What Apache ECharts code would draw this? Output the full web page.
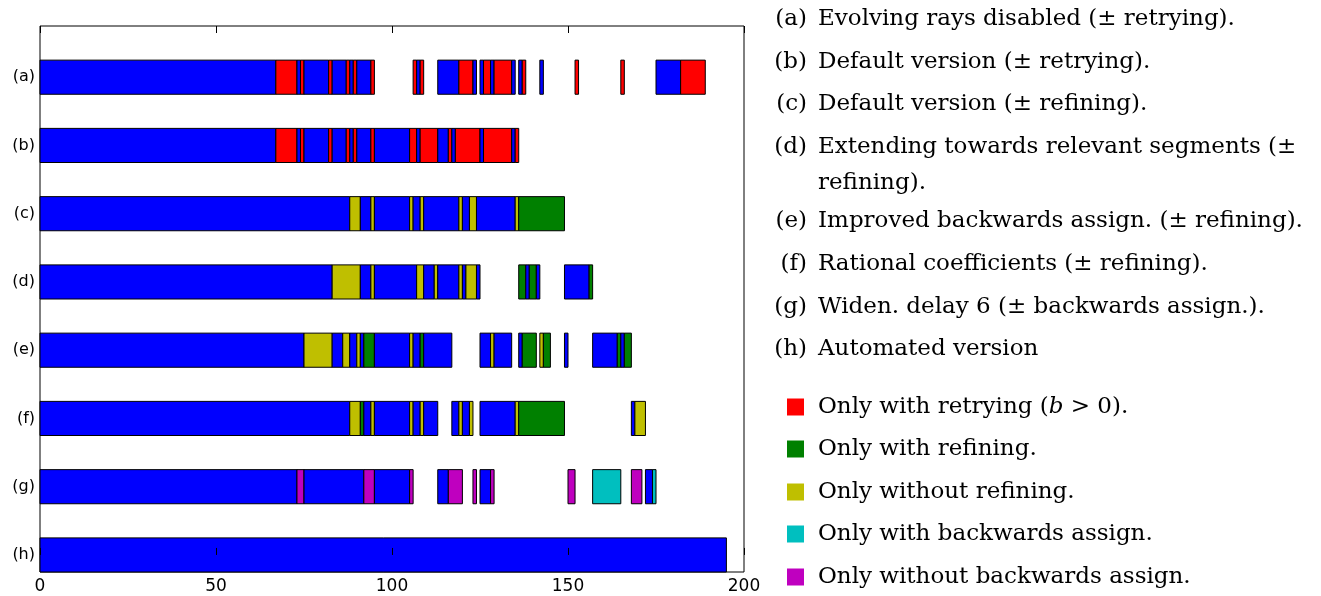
<!DOCTYPE html>
<html>
<head>
<meta charset="utf-8">
<script src="https://cdn.jsdelivr.net/npm/echarts@6/dist/echarts.min.js"></script>
<style>html,body{margin:0;padding:0;background:#fff;}#c{width:1321px;height:596px;}</style>
</head>
<body>
<div id="c"></div>
<script>
// Row labels (top to bottom)
const rowLabels = ['(a)', '(b)', '(c)', '(d)', '(e)', '(f)', '(g)', '(h)'];
const xTicks = [0, 50, 100, 150, 200];

// Segments per row: [start, end, kind]; B=both, R=only retrying, G=only refining,
// Y=only without refining, C=only with backwards assign, M=only without backwards assign
const segA = [[0,67,'B'],[67,73,'R'],[73,74,'B'],[74,75,'R'],[75,82,'B'],[82,83,'R'],[83,87,'B'],[87,88,'R'],[88,89,'B'],[89,90,'R'],[90,94,'B'],[94,95,'R'],
  [106,107,'R'],[107,108,'B'],[108,109,'R'],
  [113,119,'B'],[119,123,'R'],[123,124,'B'],
  [125,126,'B'],[126,128,'R'],[128,129,'B'],[129,134,'R'],[134,135,'B'],
  [136,137,'B'],[137,138,'R'],
  [142,143,'B'],[152,153,'R'],[165,166,'R'],
  [175,182,'B'],[182,189,'R']];
const segB = [[0,67,'B'],[67,73,'R'],[73,74,'B'],[74,75,'R'],[75,82,'B'],[82,83,'R'],[83,87,'B'],[87,88,'R'],[88,89,'B'],[89,90,'R'],[90,94,'B'],[94,95,'R'],
  [95,105,'B'],[105,107,'R'],[107,108,'B'],[108,113,'R'],[113,116,'B'],[116,117,'R'],[117,118,'B'],[118,125,'R'],[125,126,'B'],[126,134,'R'],[134,135,'B'],[135,136,'R']];
const segC = [[0,88,'B'],[88,91,'Y'],[91,94,'B'],[94,95,'Y'],[95,105,'B'],[105,106,'Y'],[106,108,'B'],[108,109,'Y'],[109,119,'B'],[119,120,'Y'],[120,122,'B'],[122,124,'Y'],[124,135,'B'],[135,136,'Y'],[136,149,'G']];
const segD = [[0,83,'B'],[83,91,'Y'],[91,94,'B'],[94,95,'Y'],[95,107,'B'],[107,109,'Y'],[109,112,'B'],[112,113,'Y'],[113,119,'B'],[119,120,'Y'],[120,121,'B'],[121,124,'Y'],[124,125,'B'],
  [136,138,'G'],[138,139,'B'],[139,141,'G'],[141,142,'B'],
  [149,156,'B'],[156,157,'G']];
const segE = [[0,75,'B'],[75,83,'Y'],[83,86,'B'],[86,88,'Y'],[88,90,'B'],[90,91,'Y'],[91,92,'B'],[92,95,'G'],[95,105,'B'],[105,106,'Y'],[106,108,'B'],[108,109,'G'],[109,117,'B'],
  [125,128,'B'],[128,129,'Y'],[129,134,'B'],
  [136,137,'B'],[137,141,'G'],
  [142,143,'Y'],[143,145,'G'],
  [149,150,'B'],
  [157,164,'B'],[164,165,'G'],[165,166,'B'],[166,168,'G']];
const segF = [[0,88,'B'],[88,91,'Y'],[91,92,'G'],[92,94,'B'],[94,95,'Y'],[95,105,'B'],[105,106,'Y'],[106,108,'B'],[108,109,'Y'],[109,113,'B'],
  [117,119,'B'],[119,120,'Y'],[120,122,'B'],[122,123,'Y'],
  [125,135,'B'],[135,136,'Y'],[136,149,'G'],
  [168,169,'B'],[169,172,'Y']];
const segG = [[0,73,'B'],[73,75,'M'],[75,92,'B'],[92,95,'M'],[95,105,'B'],[105,106,'M'],
  [113,116,'B'],[116,120,'M'],
  [123,124,'M'],
  [125,128,'B'],[128,129,'M'],
  [150,152,'M'],
  [157,165,'C'],
  [168,171,'M'],
  [172,174,'B'],[174,175,'C']];
const segH = [[0,195,'B']];

const descTexts = [
  ['(a)', 'Evolving rays disabled (\u00b1 retrying).'],
  ['(b)', 'Default version (\u00b1 retrying).'],
  ['(c)', 'Default version (\u00b1 refining).'],
  ['(d)', 'Extending towards relevant segments (\u00b1'],
  ['', 'refining).'],
  ['(e)', 'Improved backwards assign. (\u00b1 refining).'],
  ['(f)', 'Rational coefficients (\u00b1 refining).'],
  ['(g)', 'Widen. delay 6 (\u00b1 backwards assign.).'],
  ['(h)', 'Automated version']
];
const legendKinds = ['R', 'G', 'Y', 'C', 'M'];
const legendTexts = ['Only with retrying ({i|b} > 0).', 'Only with refining.', 'Only without refining.', 'Only with backwards assign.', 'Only without backwards assign.'];

const kindColor = {B:'#0000ff', R:'#ff0000', G:'#008000', Y:'#bfbf00', C:'#00bfbf', M:'#bf00bf'};
const kindIndex = ['B','R','G','Y','C','M'];

const allRows = [segA, segB, segC, segD, segE, segF, segG, segH];
const data = [];
allRows.forEach((segs, r) => {
  const yv = allRows.length - 1 - r;
  segs.forEach(s => data.push([s[0], s[1], yv, kindIndex.indexOf(s[2])]));
});

const serif = '"DejaVu Serif", "Liberation Serif", serif';
const fs = 23;
const graphics = [];
const descY = [19, 62, 104, 147, 183, 221, 264, 307, 349];
descTexts.forEach((d, i) => {
  if (d[0]) graphics.push({type:'text', x: 807, y: descY[i], style:{text:d[0], font:fs + 'px ' + serif, fill:'#000', align:'right', verticalAlign:'middle', textAlign:'right', textVerticalAlign:'middle'}});
  graphics.push({type:'text', x: 818, y: descY[i], style:{text:d[1], font:fs + 'px ' + serif, fill:'#000', align:'left', verticalAlign:'middle', textAlign:'left', textVerticalAlign:'middle'}});
});
const legY = [407, 449, 492, 534, 577];
legendKinds.forEach((k, i) => {
  graphics.push({type:'rect', shape:{x:787, y:legY[i]-8.5, width:17, height:17}, style:{fill:kindColor[k]}});
  graphics.push({type:'text', x: 818, y: legY[i], style:{text:legendTexts[i], font:fs + 'px ' + serif, fill:'#000', align:'left', verticalAlign:'middle', textAlign:'left', textVerticalAlign:'middle',
    rich:{i:{font:'italic ' + fs + 'px ' + serif, fill:'#000'}}}});
});

const chart = echarts.init(document.getElementById('c'), null, {renderer:'canvas'});
const tickVals = rowLabels.map((_, i) => i);
chart.setOption({
  animation: false,
  backgroundColor: '#fff',
  grid: {left: 40, top: 26, right: 577, bottom: 24, show: true, borderColor: '#000', borderWidth: 1, backgroundColor: 'transparent'},
  xAxis: [
    {type:'value', min:0, max:200, interval:50, position:'bottom', z: 10,
      axisLine:{show:false}, splitLine:{show:false},
      axisTick:{show:true, inside:true, length:7, lineStyle:{color:'#000'}},
      axisLabel:{color:'#000', fontFamily:'DejaVu Sans', fontSize:17, margin:6, formatter: v => xTicks.includes(v) ? String(v) : ''}},
    {type:'value', min:0, max:200, interval:50, position:'top', z: 10,
      axisLine:{show:false}, splitLine:{show:false},
      axisTick:{show:true, inside:true, length:7, lineStyle:{color:'#000'}},
      axisLabel:{show:false}}
  ],
  yAxis: [
    {type:'value', min:-0.25, max:7.75, position:'left',
      axisLine:{show:false}, splitLine:{show:false},
      axisTick:{show:false},
      axisLabel:{show:true, customValues: tickVals, color:'#000', fontFamily:'DejaVu Sans', fontSize:16, margin:5,
        formatter: v => rowLabels[rowLabels.length - 1 - Math.round(v)]}}
  ],
  series: [{
    type:'custom',
    xAxisIndex:0, yAxisIndex:0,
    encode:{x:[0,1], y:2},
    data: data,
    renderItem: function(params, api) {
      const s = api.value(0), e = api.value(1), row = api.value(2), k = api.value(3);
      const p0 = api.coord([s, row]);
      const p1 = api.coord([e, row]);
      const h = api.size([0, 0.5])[1];
      return {type:'rect', shape:{x:p0[0], y:p0[1]-h/2, width:p1[0]-p0[0], height:h},
        style:{fill: kindColor[kindIndex[k]], stroke:'#000', lineWidth:1}};
    }
  }],
  graphic: graphics
});
</script>
</body>
</html>
